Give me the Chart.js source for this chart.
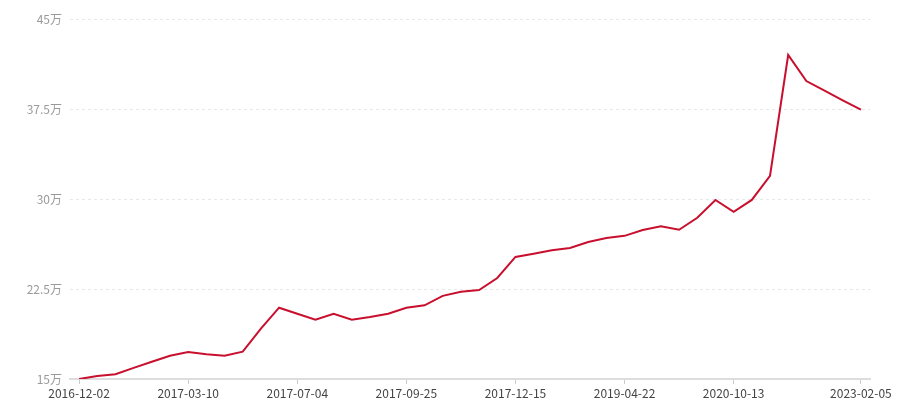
<!DOCTYPE html>
<html>
<head>
<meta charset="utf-8">
<script src="https://cdn.jsdelivr.net/npm/chart.js@4.4.1/dist/chart.umd.min.js"></script>
<style>
  html, body { margin: 0; padding: 0; background: #fff; }
  #wrap { width: 900px; height: 400px; }
</style>
</head>
<body>
<div id="wrap"><canvas id="c" width="900" height="400"></canvas></div>
<script>
// Category labels: only the dates printed on the axis are known; other points are unlabeled.
const tickLabels = ['2016-12-02', '2017-03-10', '2017-07-04', '2017-09-25', '2017-12-15', '2019-04-22', '2020-10-13', '2023-02-05'];
const tickIndexes = [0, 6, 12, 18, 24, 30, 36, 43];

// Values in 万
const values = [
  15.0, 15.25, 15.4, 15.93, 16.44, 16.94, 17.25, 17.06, 16.94, 17.28,
  19.19, 20.94, 20.44, 19.94, 20.44, 19.94, 20.17, 20.44, 20.94, 21.14,
  21.93, 22.27, 22.42, 23.42, 25.17, 25.44, 25.72, 25.92, 26.42, 26.75,
  26.93, 27.41, 27.72, 27.44, 28.44, 29.92, 28.94, 29.92, 31.92, 42.0,
  39.83, 39.03, 38.22, 37.44
];

const yTicks = [15, 22.5, 30, 37.5, 45];

const categories = values.map((v, i) => {
  const k = tickIndexes.indexOf(i);
  return k >= 0 ? tickLabels[k] : '';
});

const FONT = "'Noto Sans CJK SC', 'Noto Sans', sans-serif";

new Chart(document.getElementById('c'), {
  type: 'line',
  data: {
    labels: categories,
    datasets: [{
      data: values,
      borderColor: '#c8102e',
      borderWidth: 2,
      pointRadius: 0,
      pointHoverRadius: 0,
      tension: 0,
      fill: false
    }]
  },
  options: {
    responsive: false,
    animation: false,
    devicePixelRatio: 1,
    layout: { padding: { top: 19, right: 30, bottom: 0, left: 0 } },
    plugins: { legend: { display: false }, tooltip: { enabled: false } },
    scales: {
      x: {
        type: 'category',
        offset: true,
        grid: {
          display: true,
          drawOnChartArea: false,
          drawTicks: true,
          tickLength: 5,
          tickWidth: 1,
          tickColor: (ctx) => (categories[ctx.index] ? '#cccccc' : 'rgba(0,0,0,0)')
        },
        border: { display: true, color: '#dddddd', width: 2 },
        ticks: {
          autoSkip: false,
          maxRotation: 0,
          minRotation: 0,
          padding: 2,
          color: '#444444',
          font: { family: FONT, size: 12 },
          callback: function (val, i) { return categories[i]; }
        },
        afterFit: (scale) => { scale.height = 21; }
      },
      y: {
        min: 15,
        max: 45,
        afterBuildTicks: (scale) => { scale.ticks = yTicks.map(v => ({ value: v })); },
        grid: {
          color: '#e8e8e8',
          lineWidth: 1,
          drawTicks: false
        },
        border: { display: false, dash: [3, 3] },
        ticks: {
          padding: 8,
          color: '#9a9a9a',
          font: { family: FONT, size: 12 },
          callback: (v) => v + '万'
        },
        afterFit: (scale) => { scale.width = 70; }
      }
    }
  }
});
</script>
</body>
</html>
